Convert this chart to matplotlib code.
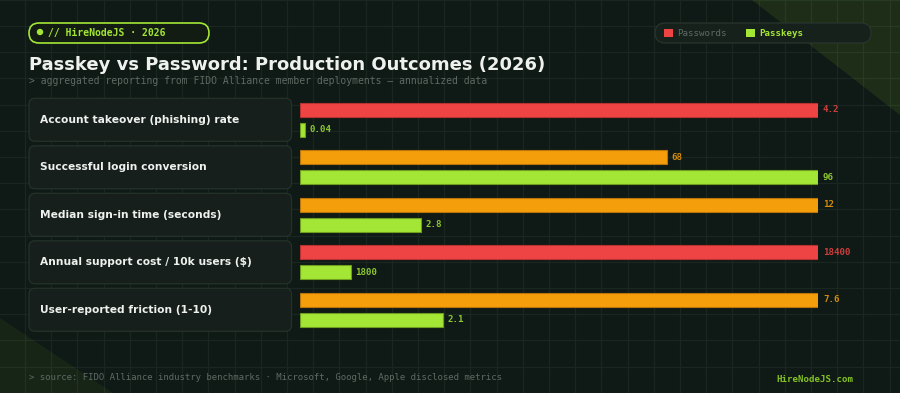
import matplotlib
matplotlib.use("Agg")
import matplotlib.pyplot as plt
from matplotlib.patches import FancyBboxPatch, Polygon, Rectangle, Circle
import numpy as np

# ---------------- data ----------------
metrics = [
    "Account takeover (phishing) rate",
    "Successful login conversion",
    "Median sign-in time (seconds)",
    "Annual support cost / 10k users ($)",
    "User-reported friction (1-10)",
]
passwords = [4.2, 68, 12, 18400, 7.6]
passkeys = [0.04, 96, 2.8, 1800, 2.1]
password_labels = ["4.2", "68", "12", "18400", "7.6"]
passkey_labels = ["0.04", "96", "2.8", "1800", "2.1"]
password_colors = ["#ef4444", "#f59e0b", "#f59e0b", "#ef4444", "#f59e0b"]
password_edges = ["#b83232", "#b8760a", "#b8760a", "#b83232", "#b8760a"]

title = "Passkey vs Password: Production Outcomes (2026)"
subtitle = "> aggregated reporting from FIDO Alliance member deployments \u2014 annualized data"
badge = "// HireNodeJS \u00b7 2026"
source = "> source: FIDO Alliance industry benchmarks \u00b7 Microsoft, Google, Apple disclosed metrics"
brand = "HireNodeJS.com"
legend_labels = ["Passwords", "Passkeys"]

# ---------------- style ----------------
BG = "#0f1915"
GRID = "#1a2720"
LIME = "#a3e635"
LIME_EDGE = "#6f9e1f"
WHITE = "#eef1ee"
GREY = "#5f6a64"
MONO = ["DejaVu Sans Mono"]
SANS = ["DejaVu Sans"]

W, H = 900, 393
fig = plt.figure(figsize=(W / 100, H / 100), dpi=100, facecolor=BG)

# background / decoration axes in pixel coordinates
bg = fig.add_axes([0, 0, 1, 1], zorder=0)
bg.set_xlim(0, W)
bg.set_ylim(H, 0)
bg.axis("off")
bg.set_facecolor(BG)
bg.add_patch(Rectangle((0, 0), W, H, facecolor=BG, edgecolor="none", zorder=0))

# grid
step = 26.2
for gx in np.arange(-1.2, W + 1, step):
    bg.plot([gx, gx], [0, H], color=GRID, lw=0.9, zorder=1)
for gy in np.arange(-0.2, H + 1, step):
    bg.plot([0, W], [gy, gy], color=GRID, lw=0.9, zorder=1)

# corner tints
bg.add_patch(Polygon([(752, 0), (W, 0), (W, 115)], closed=True,
                     facecolor=LIME, alpha=0.10, edgecolor="none", zorder=2))
bg.add_patch(Polygon([(0, 318), (0, H), (113, H)], closed=True,
                     facecolor=LIME, alpha=0.06, edgecolor="none", zorder=2))

# badge
bg.add_patch(FancyBboxPatch((29, 23), 180, 20,
                            boxstyle="round,pad=0,rounding_size=10",
                            facecolor="#121c12", edgecolor=LIME, lw=1.2, zorder=3))
bg.add_patch(Circle((40, 32), 3.2, facecolor=LIME, edgecolor="none", zorder=4))
bg.text(48.5, 33, badge, family=MONO, fontweight="bold", fontsize=7.0,
        color=LIME, va="center", ha="left", zorder=4)

# legend pill
bg.add_patch(FancyBboxPatch((655, 23), 216, 20,
                            boxstyle="round,pad=0,rounding_size=10",
                            facecolor="#17211c", edgecolor="#27352d", lw=0.9, zorder=3))
bg.add_patch(Rectangle((664, 29), 9, 8, facecolor="#ef4444", edgecolor="none", zorder=4))
bg.text(677, 33.5, legend_labels[0], family=MONO, fontsize=6.6,
        color=GREY, va="center", ha="left", zorder=4)
bg.add_patch(Rectangle((746, 29), 9, 8, facecolor=LIME, edgecolor="none", zorder=4))
bg.text(759, 33.5, legend_labels[1], family=MONO, fontsize=6.6, fontweight="bold",
        color=LIME, va="center", ha="left", zorder=4)

# titles
bg.text(29, 70, title, family=SANS, fontweight="bold", fontsize=13,
        color=WHITE, va="baseline", ha="left", zorder=4)
bg.text(29, 81.5, subtitle, family=MONO, fontsize=7.05,
        color=GREY, va="center", ha="left", zorder=4)

# footer
bg.text(29, 378, source, family=MONO, fontsize=6.5,
        color=GREY, va="center", ha="left", zorder=4)
bg.text(853, 379, brand, family=MONO, fontsize=6.6, fontweight="bold",
        color="#84c224", va="center", ha="right", zorder=4)

# row label boxes
pitch = 47.5
row0 = 119.8
box_h = 43
for i, name in enumerate(metrics):
    cy = row0 + i * pitch
    bg.add_patch(FancyBboxPatch((29, cy - box_h / 2), 262.5, box_h,
                                boxstyle="round,pad=0,rounding_size=6",
                                facecolor="#161f1b", edgecolor="#24322a", lw=0.9, zorder=3))
    bg.text(40, cy, name, family=SANS, fontweight="bold", fontsize=7.65,
            color=WHITE, va="center", ha="left", zorder=4)

# ---------------- bars axes ----------------
bar_left, bar_right = 300, 818.3
top_px = row0 - pitch / 2
bot_px = row0 + 4 * pitch + pitch / 2
ax = fig.add_axes([bar_left / W, (H - bot_px) / H, (bar_right - bar_left) / W,
                   (bot_px - top_px) / H], zorder=5)
ax.set_xlim(0, 1)
ax.set_ylim(len(metrics) - 0.5, -0.5)
ax.axis("off")
ax.patch.set_alpha(0)

pw = np.array(passwords, dtype=float)
pk = np.array(passkeys, dtype=float)
row_max = np.maximum(pw, pk)
pw_n = pw / row_max
pk_n = pk / row_max

y = np.arange(len(metrics))
off = 10 / pitch
bh = 14 / pitch

ax.barh(y - off, pw_n, height=bh, color=password_colors,
        edgecolor=password_edges, linewidth=0.8)
ax.barh(y + off, pk_n, height=bh, color=LIME,
        edgecolor=LIME_EDGE, linewidth=0.8)

for i in range(len(metrics)):
    ax.annotate(password_labels[i], (pw_n[i], y[i] - off), xytext=(3.3, 0),
                textcoords="offset points", va="center", ha="left",
                family=MONO, fontweight="bold", fontsize=6.6,
                color=password_colors[i], alpha=0.85, annotation_clip=False)
    ax.annotate(passkey_labels[i], (pk_n[i], y[i] + off), xytext=(3.3, 0),
                textcoords="offset points", va="center", ha="left",
                family=MONO, fontweight="bold", fontsize=6.6,
                color=LIME, alpha=0.85, annotation_clip=False)

fig.savefig("out.png", dpi=100, facecolor=BG)
